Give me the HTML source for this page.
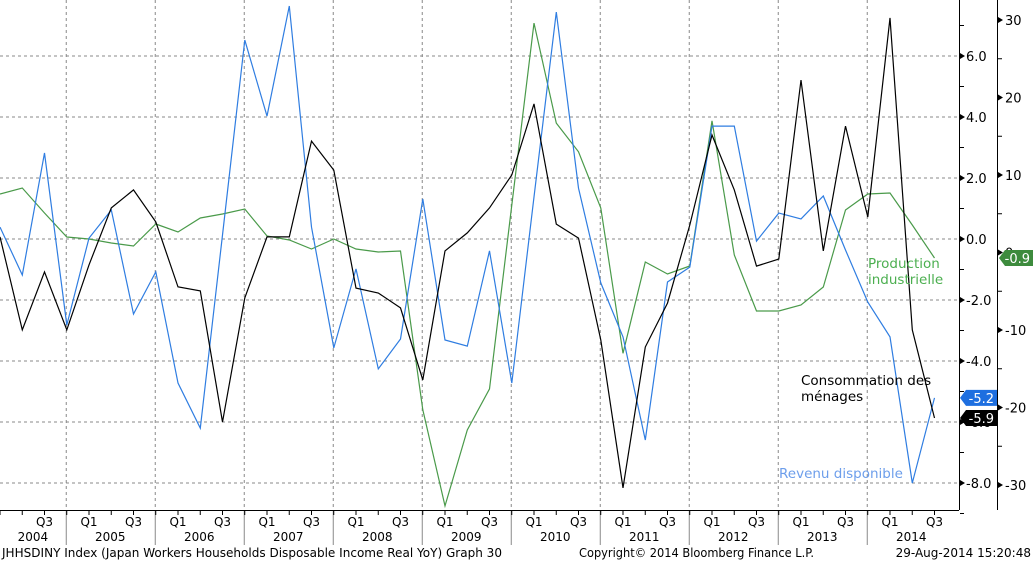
<!DOCTYPE html>
<html><head><meta charset="utf-8"><style>
html,body{margin:0;padding:0;background:#fff;}
svg{display:block;font-family:"DejaVu Sans","Liberation Sans",sans-serif;}
</style></head><body>
<svg id="chart" width="1033" height="562" viewBox="0 0 1033 562" xmlns="http://www.w3.org/2000/svg">
<g id="grid"></g>
<g id="series"></g>
<g id="axes"></g>
<text x="868" y="268" font-size="13.5" fill="#4caf50">Production</text>
<text x="868" y="284" font-size="13.5" fill="#4caf50">industrielle</text>
<text x="801" y="385" font-size="13.5" fill="#000">Consommation des</text>
<text x="801" y="401" font-size="13.5" fill="#000">ménages</text>
<text x="779" y="478" font-size="13.5" fill="#6d9eeb">Revenu disponible</text>
<text x="2" y="557" font-size="12" fill="#000" textLength="500" lengthAdjust="spacingAndGlyphs">JHHSDINY Index (Japan Workers Households Disposable Income Real YoY) Graph 30</text>
<text x="579" y="557" font-size="12" fill="#000" textLength="235" lengthAdjust="spacingAndGlyphs">Copyright© 2014 Bloomberg Finance L.P.</text>
<text x="1031" y="557" font-size="12" fill="#000" text-anchor="end">29-Aug-2014 15:20:48</text>
</svg>
<script>
const consommation=[0.07,-2.98,-1.08,-2.98,-0.85,1.02,1.61,0.56,-1.57,-1.70,-6.0,-1.93,0.07,0.07,3.21,2.26,-1.61,-1.77,-2.26,-4.62,-0.39,0.20,1.02,2.10,4.43,0.49,0.03,-3.31,-8.16,-3.54,-2.10,0.46,3.41,1.61,-0.89,-0.66,5.21,-0.39,3.70,0.72,7.25,-2.98,-5.87];
const revenu=[0.39,-1.18,2.82,-2.82,0.03,0.95,-2.46,-1.08,-4.72,-6.20,0.13,6.52,4.03,7.64,0.39,-3.57,-0.98,-4.26,-3.28,1.31,-3.31,-3.51,-0.39,-4.72,1.38,7.44,1.67,-1.44,-3.21,-6.59,-1.41,-0.92,3.70,3.70,-0.07,0.85,0.66,1.41,-0.36,-2.07,-3.21,-8.0,-5.21];
const production=[7.55,8.32,5.10,2.0,1.74,1.23,0.84,3.68,2.65,4.45,4.97,5.61,2.13,1.61,0.45,1.74,0.45,0.06,0.19,-20.3,-32.7,-22.9,-17.6,6.13,29.6,16.7,13.0,5.74,-13.0,-1.23,-2.77,-1.74,17.0,-0.32,-7.55,-7.55,-6.77,-4.45,5.48,7.55,7.68,3.55,-0.71];
const years=["2004","2005","2006","2007","2008","2009","2010","2011","2012","2013","2014"];
const innerTicks=["6.0","4.0","2.0","0.0","-2.0","-4.0","-6.0","-8.0"];
const outerTicks=["30","20","10","0","-10","-20","-30"];
const lastLabels=["-5.2","-5.9","-0.9"];

const NS="http://www.w3.org/2000/svg";
const xOf=i=>i*22.25;
const yIn=v=>239-v*30.5;
const yOut=v=>252.5-v*7.75;
function mk(tag,attrs,parent,txt){const e=document.createElementNS(NS,tag);for(const k in attrs)e.setAttribute(k,attrs[k]);if(txt!==undefined)e.textContent=txt;parent.appendChild(e);return e;}
const grid=document.getElementById('grid'),series=document.getElementById('series'),axes=document.getElementById('axes');
// horizontal grid
innerTicks.forEach(t=>{const y=yIn(parseFloat(t));
 const l=mk('line',{x1:0,x2:958,y1:y,y2:y,stroke:'#888','stroke-dasharray':'3,3','stroke-width':1},grid);
 
 
});
// vertical grid at year boundaries
const yb=i=>xOf(i)-1; // boundary index
for(let k=1;k<years.length;k++){const x=yb(k*4-1)+0.5;
 const l=mk('line',{x1:x,x2:x,y1:0,y2:510,stroke:'#888','stroke-dasharray':'3,3','stroke-width':1},grid);
 
 
 const s=mk('line',{x1:x,x2:x,y1:510,y2:545,stroke:'#888','stroke-width':1},axes);
 
 
}
// x axis
const xa=mk('line',{x1:0,x2:959,y1:510.5,y2:510.5,stroke:'#000','stroke-width':1},axes);


for(let i=0;i<consommation.length;i++){const x=xOf(i);
 const t=mk('line',{x1:x,x2:x,y1:510,y2:515,stroke:'#000'},axes);
 
 
 if(i%2===0&&i>0){const q=(i%4===0)?'Q1':'Q3';
  const tx=mk('text',{x:x,y:526,'font-size':12,'text-anchor':'middle'},axes,q);
  
  }
}
years.forEach((yr,k)=>{const x0=k===0?0:yb(k*4-1);const x1=Math.min(yb(k*4+3),958);
 const t=mk('text',{x:(x0+x1)/2,y:541,'font-size':12,'text-anchor':'middle'},axes,yr);
 
 
});
// right axes
const ia=mk('line',{x1:959.5,x2:959.5,y1:0,y2:510,stroke:'#000'},axes);


const oa=mk('line',{x1:997.5,x2:997.5,y1:0,y2:510,stroke:'#000'},axes);


for(let v=-9;v<=7;v++){const y=yIn(v);
 if(v%2===0){const p=mk('polygon',{points:`960,${y-3} 965,${y} 960,${y+3}`,fill:'#000'},axes);
  
  }
 else{const l=mk('line',{x1:960,x2:964,y1:y,y2:y,stroke:'#000'},axes);
  
  }
}
innerTicks.forEach(t=>{const y=yIn(parseFloat(t));
 const e=mk('text',{x:966,y:y+5,'font-size':13},axes,t);
 
 
});
for(let v=-30;v<=30;v+=5){const y=yOut(v);
 if(v%10===0){const p=mk('polygon',{points:`998,${y-3} 1003,${y} 998,${y+3}`,fill:'#000'},axes);
  
  }
 else{const l=mk('line',{x1:998,x2:1002,y1:y,y2:y,stroke:'#000'},axes);
  
  }
}
outerTicks.forEach(t=>{const y=yOut(parseFloat(t));
 const e=mk('text',{x:1005,y:y+5,'font-size':13},axes,t);
 
 
});
// series
function line(data,yf,color,name){const pts=data.map((v,i)=>xOf(i).toFixed(1)+','+yf(v).toFixed(1)).join(' ');
 const p=mk('polyline',{points:pts,fill:'none',stroke:color,'stroke-width':1.2,'stroke-linejoin':'miter'},series);
 
 }
line(production,yOut,'#4a9a4a','production-line');
line(revenu,yIn,'#2f7de1','revenu-line');
line(consommation,yIn,'#000','consommation-line');
// value tags
function tag(x,w,y,fill,txt,name){const h=16;
 const g=mk('g',{},axes);
 
 
 mk('polygon',{points:`${x},${y} ${x+6},${y-h/2} ${x+w},${y-h/2} ${x+w},${y+h/2} ${x+6},${y+h/2}`,fill:fill},g);
 mk('text',{x:x+w-3,y:y+5,'font-size':13,fill:'#fff','text-anchor':'end'},g,txt);}
tag(960,37,yIn(revenu[revenu.length-1]),'#1e6fe0',lastLabels[0],'revenu-value-tag');
tag(960,37,Math.max(yIn(consommation[consommation.length-1]),yIn(revenu[revenu.length-1])+20),'#000',lastLabels[1],'consommation-value-tag');
tag(999,34,yOut(production[production.length-1]),'#3d8b3d',lastLabels[2],'production-value-tag');
</script>
</body></html>
